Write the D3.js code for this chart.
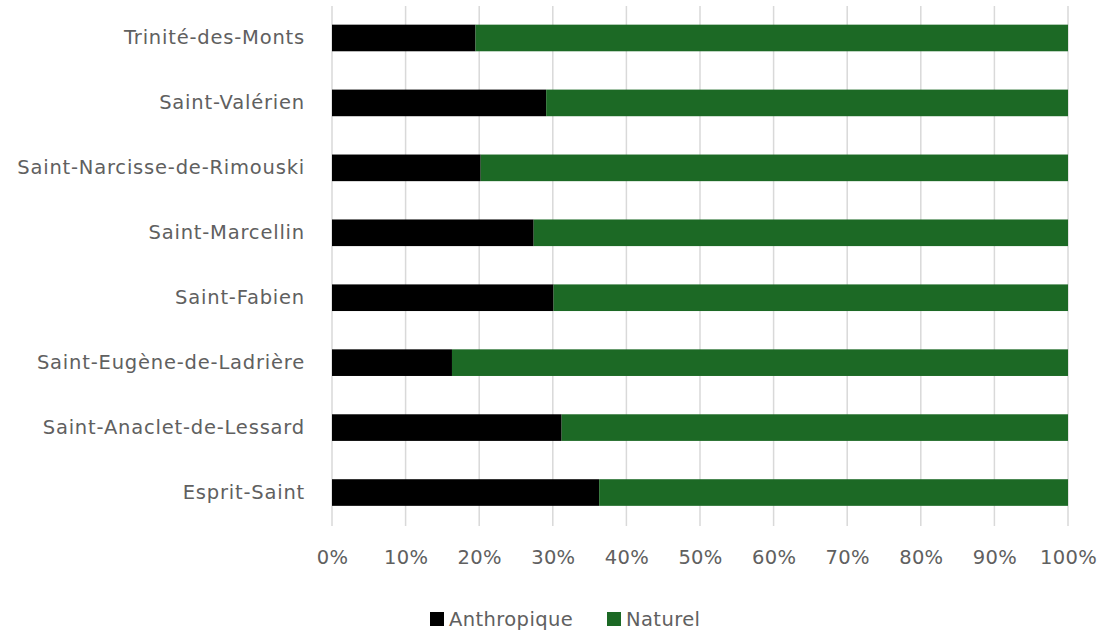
<!DOCTYPE html>
<html>
<head>
<meta charset="utf-8">
<script src="https://cdn.jsdelivr.net/npm/d3@7"></script>
<style>
  html, body { margin: 0; padding: 0; background: #fff; }
  text { font-family: "DejaVu Sans", sans-serif; }
</style>
</head>
<body>
<svg id="chart" width="1104" height="633"></svg>
<script>
const categories = [
  "Trinité-des-Monts",
  "Saint-Valérien",
  "Saint-Narcisse-de-Rimouski",
  "Saint-Marcellin",
  "Saint-Fabien",
  "Saint-Eugène-de-Ladrière",
  "Saint-Anaclet-de-Lessard",
  "Esprit-Saint"
];
const anthropique = [19.5, 29.1, 20.2, 27.4, 30.1, 16.3, 31.2, 36.3];
const naturel = [80.5, 70.9, 79.8, 72.6, 69.9, 83.7, 68.8, 63.7];
const seriesNames = ["Anthropique", "Naturel"];
const seriesColors = ["#000000", "#1c6925"];
const tickValues = [0, 10, 20, 30, 40, 50, 60, 70, 80, 90, 100];

const svg = d3.select("#chart");
const margin = { left: 332, right: 36, top: 5.5, bottom: 108 };
const W = 1104, H = 633;

const x = d3.scaleLinear().domain([0, 100]).range([margin.left, W - margin.right]);
const y = d3.scaleBand().domain(categories).range([margin.top, H - margin.bottom]).paddingInner(0.59).paddingOuter(0.295);

const textColor = "#606060";
const fontSize = 19.5;
const font = "'DejaVu Sans', sans-serif";

// gridlines
svg.append("g").selectAll("line").data(tickValues).join("line")
  .attr("x1", d => x(d)).attr("x2", d => x(d))
  .attr("y1", 6).attr("y2", 526)
  .attr("stroke", "#d9d9d9").attr("stroke-width", 1.5);

// stacked data
const rows = categories.map((c, i) => ({ cat: c, Anthropique: anthropique[i], Naturel: naturel[i] }));
const stack = d3.stack().keys(seriesNames)(rows);

svg.append("g").selectAll("g").data(stack).join("g")
  .attr("fill", (d, i) => seriesColors[i])
  .selectAll("rect").data(d => d).join("rect")
  .attr("x", d => x(d[0]))
  .attr("width", d => x(d[1]) - x(d[0]))
  .attr("y", d => y(d.data.cat))
  .attr("height", y.bandwidth());

// x axis labels
const xAxis = d3.axisBottom(x).tickValues(tickValues).tickFormat(d => d + "%").tickSize(0).tickPadding(0);
const gx = svg.append("g").attr("transform", `translate(0, 550)`).call(xAxis);
gx.select(".domain").remove();
gx.selectAll("text").attr("fill", textColor).style("font-size", fontSize + "px").style("font-family", font).style("letter-spacing", "0.3px");

// y axis labels
const yAxis = d3.axisLeft(y).tickSize(0).tickPadding(27);
const gy = svg.append("g").attr("transform", `translate(${margin.left}, 0)`).call(yAxis);
gy.select(".domain").remove();
gy.selectAll("text").attr("fill", textColor).style("font-size", fontSize + "px").style("font-family", font).style("letter-spacing", "0.8px");

// legend
const legend = svg.append("g");
const legendItems = [{ name: seriesNames[0], color: seriesColors[0], x: 430 }, { name: seriesNames[1], color: seriesColors[1], x: 607 }];
legendItems.forEach(it => {
  legend.append("rect").attr("x", it.x).attr("y", 612).attr("width", 14).attr("height", 14).attr("fill", it.color);
  legend.append("text").attr("x", it.x + 19).attr("y", 619).attr("dy", "0.35em")
    .attr("fill", textColor).style("font-size", fontSize + "px").style("font-family", font).style("letter-spacing", "0.4px").text(it.name);
});
</script>
</body>
</html>
